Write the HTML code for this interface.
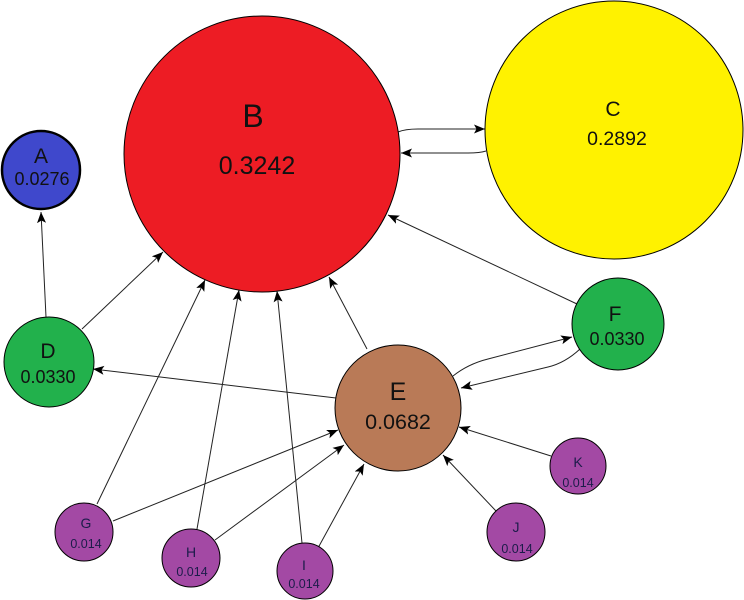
<!DOCTYPE html>
<html><head><meta charset="utf-8"><style>
html,body{margin:0;padding:0;background:#fff;}
svg{display:block;}
text{font-family:"Liberation Sans",sans-serif;text-anchor:middle;fill:#111;}
</style></head><body>
<svg width="744" height="600" viewBox="0 0 744 600" xmlns="http://www.w3.org/2000/svg">
<defs>
<marker id="ah" markerWidth="12" markerHeight="10" refX="11" refY="4.5" orient="auto" markerUnits="userSpaceOnUse">
<path d="M0,0 L11,4.5 L0,9 L2.5,4.5 Z" fill="#000"/>
</marker>
</defs>
<g stroke="#222" stroke-width="1" fill="none" marker-end="url(#ah)">
<line x1="46" y1="317" x2="41" y2="212"/>
<line x1="82" y1="329" x2="163" y2="252"/>
<line x1="97" y1="504" x2="205" y2="280"/>
<line x1="197" y1="529" x2="239" y2="290"/>
<line x1="302" y1="543" x2="277" y2="291"/>
<line x1="367" y1="349" x2="329" y2="277"/>
<line x1="577" y1="304" x2="388" y2="215"/>
<line x1="336" y1="398" x2="93" y2="369"/>
<line x1="113" y1="521" x2="338" y2="430"/>
<line x1="215" y1="540" x2="344" y2="445"/>
<line x1="318" y1="548" x2="364" y2="464"/>
<line x1="496" y1="511" x2="443" y2="455"/>
<line x1="551" y1="456" x2="459" y2="427"/>
<path d="M398,132 Q405,129 418,129 L485,129"/>
<path d="M486,151 Q480,153 468,153 L401,153"/>
<path d="M453,376 Q468,364 488,359 L572,337"/>
<path d="M580,349 Q565,363 548,367 L461,388"/>
</g>
<g stroke="#000" stroke-width="1">
<circle cx="262" cy="154" r="138" fill="#ED1C24"/>
<circle cx="614" cy="130" r="129" fill="#FFF200"/>
<circle cx="41" cy="170" r="39" fill="#3F48CC" stroke-width="2.5"/>
<circle cx="49" cy="362" r="45" fill="#22B14C"/>
<circle cx="398" cy="408" r="63" fill="#B97A57"/>
<circle cx="618" cy="324" r="46" fill="#22B14C"/>
<circle cx="578" cy="466" r="28" fill="#A349A4"/>
<circle cx="516" cy="532" r="29" fill="#A349A4"/>
<circle cx="84" cy="532" r="29" fill="#A349A4"/>
<circle cx="191" cy="558" r="29" fill="#A349A4"/>
<circle cx="305" cy="571" r="28" fill="#A349A4"/>
</g>
<text x="253" y="127" font-size="32">B</text>
<text x="257" y="174" font-size="25">0.3242</text>
<text x="613" y="116" font-size="21">C</text>
<text x="617" y="145" font-size="19.5">0.2892</text>
<text x="41" y="163" font-size="21">A</text>
<text x="42" y="185" font-size="18">0.0276</text>
<text x="48" y="358" font-size="21">D</text>
<text x="48" y="383" font-size="18">0.0330</text>
<text x="398" y="400" font-size="25">E</text>
<text x="398" y="429" font-size="21.5">0.0682</text>
<text x="615" y="321" font-size="21">F</text>
<text x="617" y="345" font-size="18">0.0330</text>
<g fill="#1c1c4a">
<text x="578" y="467" font-size="14" style="fill:#1c1c4a">K</text>
<text x="578" y="487" font-size="12.5" style="fill:#1c1c4a">0.014</text>
<text x="516" y="532" font-size="14" style="fill:#1c1c4a">J</text>
<text x="517" y="553" font-size="12.5" style="fill:#1c1c4a">0.014</text>
<text x="86" y="528" font-size="14" style="fill:#1c1c4a">G</text>
<text x="86" y="548" font-size="12.5" style="fill:#1c1c4a">0.014</text>
<text x="191" y="557" font-size="14" style="fill:#1c1c4a">H</text>
<text x="192" y="576" font-size="12.5" style="fill:#1c1c4a">0.014</text>
<text x="304" y="570" font-size="14" style="fill:#1c1c4a">I</text>
<text x="304" y="588" font-size="12.5" style="fill:#1c1c4a">0.014</text>
</g>
</svg>
</body></html>
